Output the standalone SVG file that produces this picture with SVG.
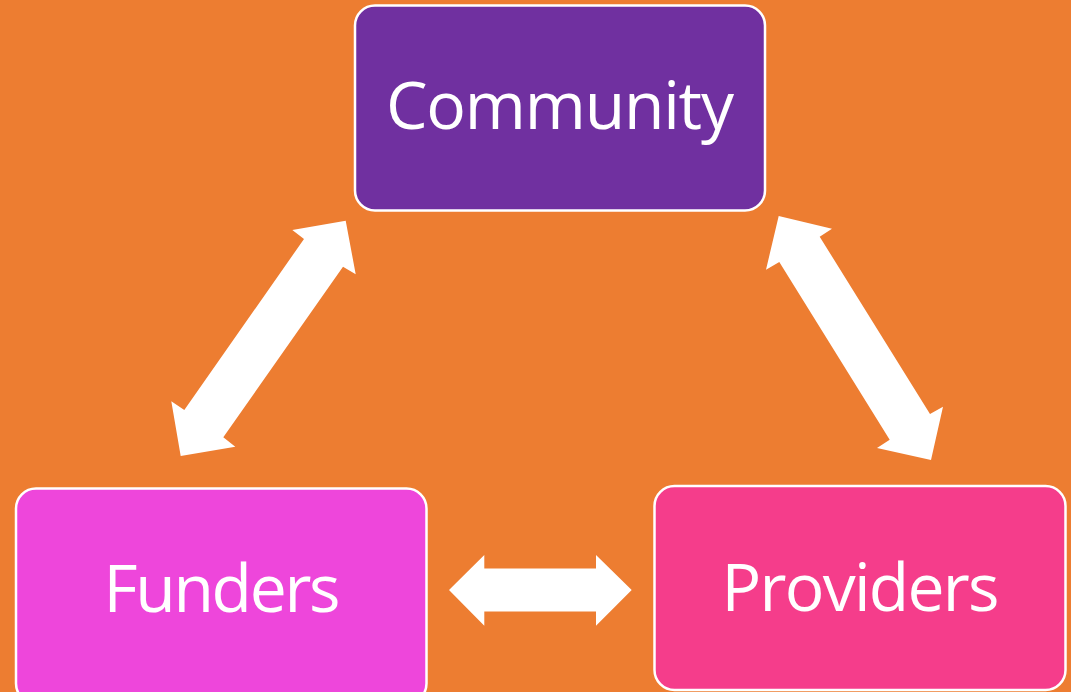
<svg xmlns="http://www.w3.org/2000/svg" width="1071" height="692" viewBox="0 0 1071 692">
<style>
.box{stroke:#ffffff;stroke-width:2.5}
.lbl{font-family:"Open Sans","Liberation Sans",sans-serif;font-size:66px;fill:#ffffff;text-anchor:middle}
.arr{fill:#ffffff}
</style>
<rect x="0" y="0" width="1071" height="692" fill="#ED7D31"/>
<g id="connectors">
<polygon class="arr" points="345.7,220.7 355.7,274.3 343,266.7 223.3,437.3 235.3,446.7 180.7,456 171.3,401.3 184.3,410 304,239 292.3,230"/>
<polygon class="arr" points="778.7,216 832,228.7 819.7,236.7 930,414 943,406.7 931,460 877,448 889.7,439.7 779.3,262 766,269.7"/>
<polygon class="arr" points="449,590 484.3,555 484.3,568.5 596,568.5 596,555 631.7,590 596,625.7 596,611.5 484.3,611.5 484.3,625.7"/>
</g>
<g id="community">
<rect class="box" x="355" y="5.5" width="410" height="205" rx="20" fill="#7030A0"/>
<text class="lbl" x="560" y="129" textLength="348">Community</text>
</g>
<g id="funders">
<rect class="box" x="16" y="488.5" width="410.5" height="215" rx="20" fill="#EE46DB"/>
<text class="lbl" x="222" y="612" textLength="237">Funders</text>
</g>
<g id="providers">
<rect class="box" x="654.5" y="486" width="411" height="204" rx="20" fill="#F53D8B"/>
<text class="lbl" x="860.5" y="611" textLength="278">Providers</text>
</g>
</svg>
